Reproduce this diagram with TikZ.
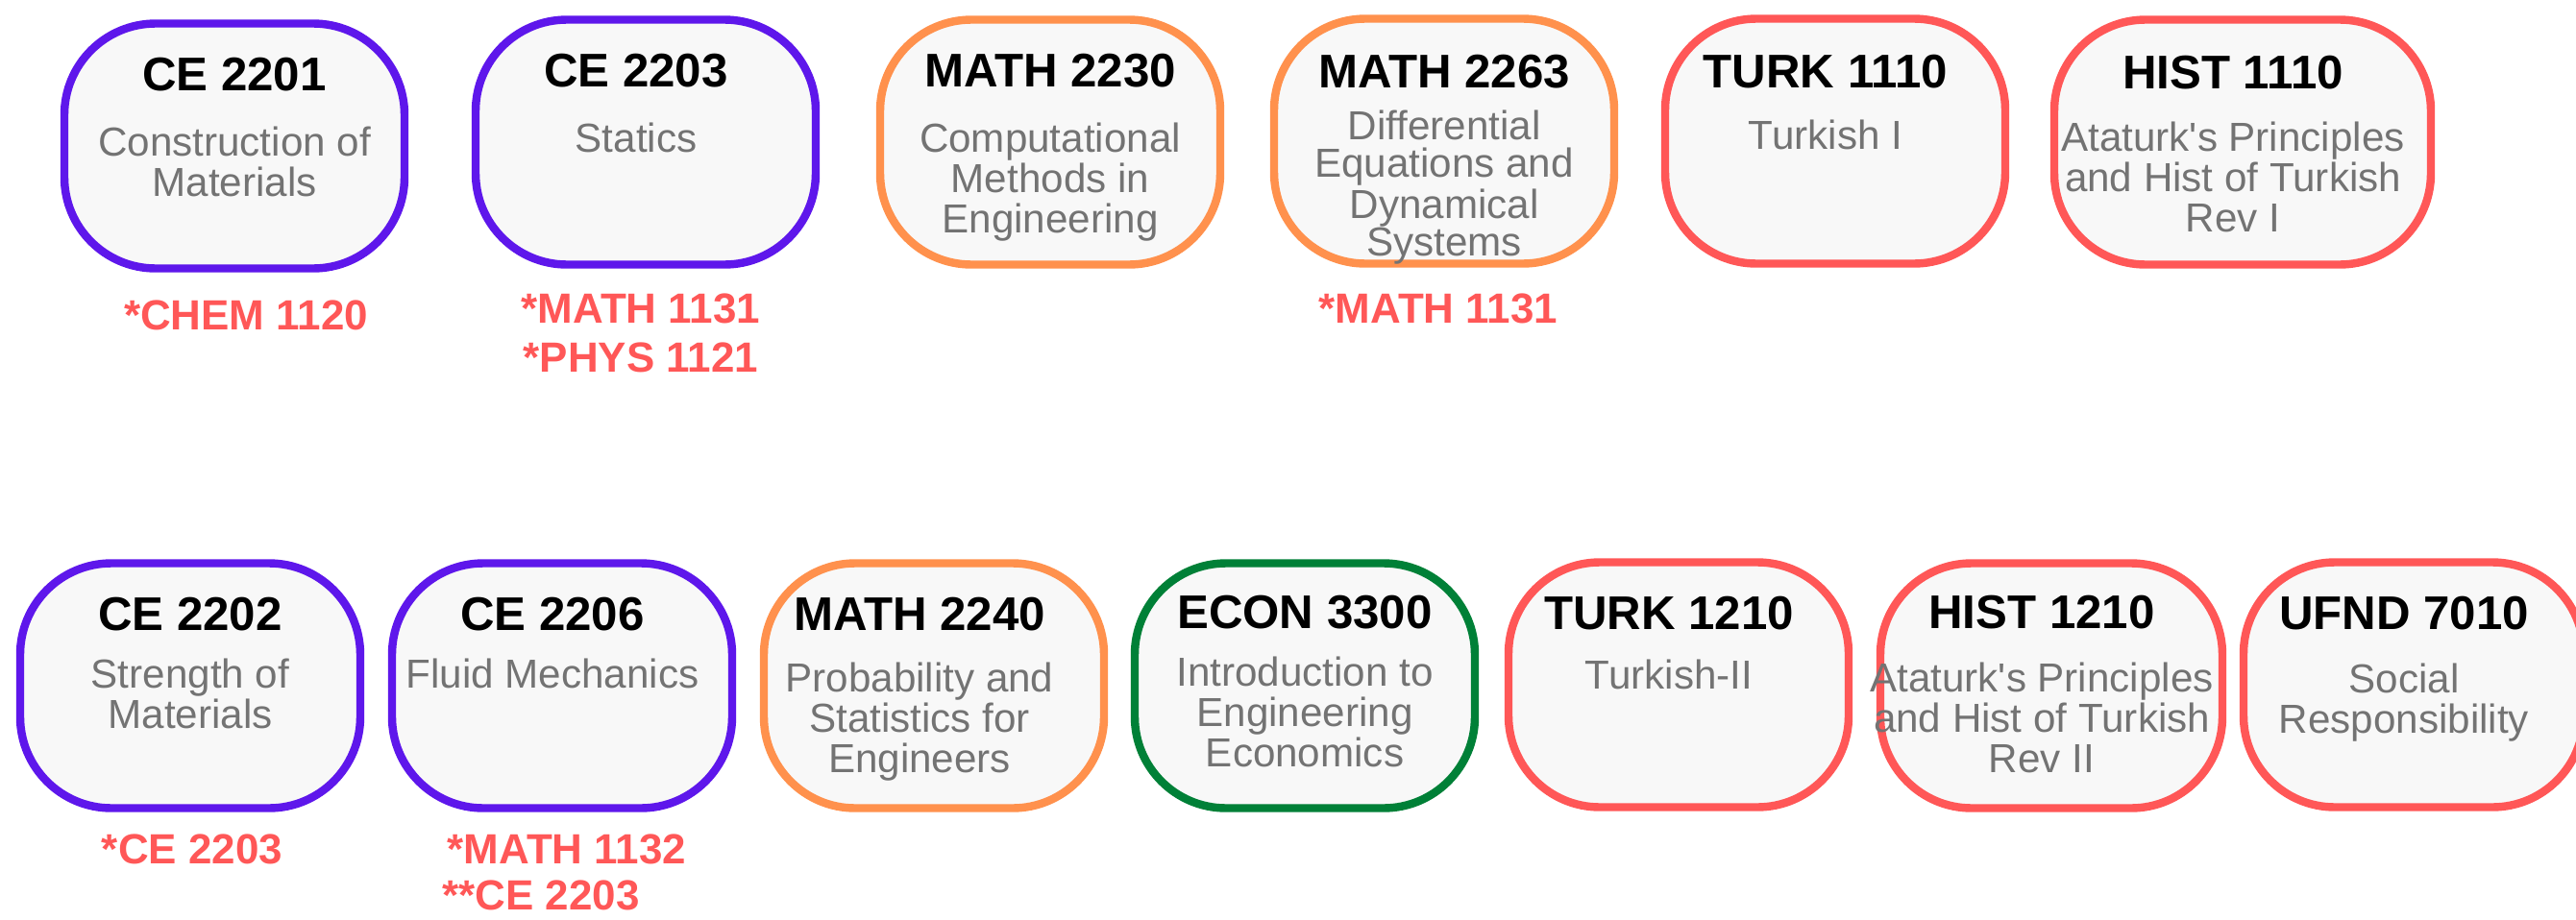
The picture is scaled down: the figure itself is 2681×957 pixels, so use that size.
\documentclass[tikz,border=0pt]{standalone}
\usepackage{fontspec}
\setmainfont{Liberation Sans}
\usepackage{xcolor}
\usetikzlibrary{positioning}
\definecolor{roxo}{HTML}{5E17EB}
\definecolor{laranja}{HTML}{FF914D}
\definecolor{vermelho}{HTML}{FF5757}
\definecolor{verde}{HTML}{008037}
\definecolor{fundo}{HTML}{F8F8F8}
\definecolor{cinza}{HTML}{737373}
\tikzset{
    course/.style={
        rectangle,
        draw,
        line width=2.4pt,
        rounded corners=9.5mm,
        fill=fundo,
        minimum width=35.4mm,
        minimum height=25.5mm,
        inner sep=0pt
    },
    civil/.style={course, draw=roxo},
    mathcourse/.style={course, draw=laranja},
    general/.style={course, draw=vermelho},
    econ/.style={course, draw=verde},
    coursecode/.style={font=\fontsize{14}{16}\selectfont\bfseries, inner sep=0pt},
    coursename/.style={font=\fontsize{12}{11.9}\selectfont, text=cinza, align=center, inner sep=0pt},
    prereq/.style={font=\fontsize{12.5}{14.7}\selectfont\bfseries, text=vermelho, align=center, inner sep=0pt}
}

\begin{document}
\begin{tikzpicture}[x=0.1mm, y=-0.1mm]
    \useasboundingbox (0,0) rectangle (2681,957);
    \clip (0,0) rectangle (2681,957);

    % first row
    \node[civil] (ce2201) at (244,152) {};
    \node[civil] (ce2203) at (672,148) {};
    \node[mathcourse] (math2230) at (1093,148) {};
    \node[mathcourse] (math2263) at (1503,147) {};
    \node[general] (turk1110) at (1910,147) {};
    \node[general, minimum width=39.2mm] (hist1110) at (2334,148) {};

    \node[coursecode, below=3.9mm of ce2201.north] (ce2201code) {CE 2201};
    \node[coursename, below=3.6mm of ce2201code] (ce2201name) {Construction of\\Materials};
    \node[coursecode, below=3.9mm of ce2203.north, xshift=-1mm] (ce2203code) {CE 2203};
    \node[coursename, below=3.6mm of ce2203code] (ce2203name) {Statics};
    \node[coursecode, below=3.9mm of math2230.north] (math2230code) {MATH 2230};
    \node[coursename, below=3.6mm of math2230code] (math2230name) {Computational\\Methods in\\Engineering};
    \node[coursecode, below=4.1mm of math2263.north] (math2263code) {MATH 2263};
    \node[coursename, below=2.2mm of math2263code, font=\fontsize{12}{11}\selectfont] (math2263name) {Differential\\Equations and\\Dynamical\\Systems};
    \node[coursecode, below=4.1mm of turk1110.north, xshift=-1mm] (turk1110code) {TURK 1110};
    \node[coursename, below=3.2mm of turk1110code] (turk1110name) {Turkish I};
    \node[coursecode, below=4.1mm of hist1110.north, xshift=-1mm] (hist1110code) {HIST 1110};
    \node[coursename, below=3.3mm of hist1110code] (hist1110name) {Ataturk\textquotesingle s Principles\\and Hist of Turkish\\Rev I};

    % second row
    \node[civil] (ce2202) at (198,714) {};
    \node[civil] (ce2206) at (585,714) {};
    \node[mathcourse] (math2240) at (972,714) {};
    \node[econ] (econ3300) at (1358,714) {};
    \node[general] (turk1210) at (1747,713) {};
    \node[general, minimum width=35.6mm] (hist1210) at (2135,714) {};
    \node[general] (ufnd7010) at (2512,713) {};

    \node[coursecode, below=3.9mm of ce2202.north] (ce2202code) {CE 2202};
    \node[coursename, below=2.8mm of ce2202code] (ce2202name) {Strength of\\Materials};
    \node[coursecode, below=3.9mm of ce2206.north, xshift=-1mm] (ce2206code) {CE 2206};
    \node[coursename, below=2.8mm of ce2206code] (ce2206name) {Fluid Mechanics};
    \node[coursecode, below=3.9mm of math2240.north, xshift=-1.5mm] (math2240code) {MATH 2240};
    \node[coursename, below=3.2mm of math2240code] (math2240name) {Probability and\\Statistics for\\Engineers};
    \node[coursecode, below=3.7mm of econ3300.north] (econ3300code) {ECON 3300};
    \node[coursename, below=2.8mm of econ3300code] (econ3300name) {Introduction to\\Engineering\\Economics};
    \node[coursecode, below=3.9mm of turk1210.north, xshift=-1mm] (turk1210code) {TURK 1210};
    \node[coursename, below=3.0mm of turk1210code] (turk1210name) {Turkish-II};
    \node[coursecode, below=3.7mm of hist1210.north, xshift=-1mm] (hist1210code) {HIST 1210};
    \node[coursename, below=3.4mm of hist1210code] (hist1210name) {Ataturk\textquotesingle s Principles\\and Hist of Turkish\\Rev II};
    \node[coursecode, below=3.9mm of ufnd7010.north, xshift=-1mm] (ufnd7010code) {UFND 7010};
    \node[coursename, below=3.4mm of ufnd7010code] (ufnd7010name) {Social\\Responsibility};

    % prerequisites
    \node[prereq] (ce2201pre) at (256,328) {*CHEM 1120};
    \node[prereq] (ce2203pre) at (667,347) {*MATH 1131\\*PHYS 1121};
    \node[prereq] (math2263pre) at (1497,321) {*MATH 1131};
    \node[prereq] (ce2202pre) at (200,884) {*CE 2203};
    \node[prereq] (ce2206preA) at (590,884) {*MATH 1132};
    \node[prereq] (ce2206preB) at (563,932) {**CE 2203};
\end{tikzpicture}
\end{document}
